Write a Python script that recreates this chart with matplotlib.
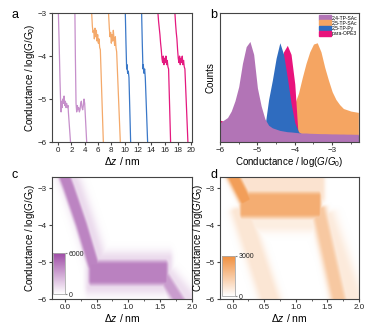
import numpy as np
import matplotlib
matplotlib.use("Agg")
import matplotlib.pyplot as plt
from matplotlib.colors import LinearSegmentedColormap
from matplotlib.patches import Patch
from matplotlib.ticker import MultipleLocator

plt.rcParams['font.family'] = ['Liberation Sans', 'DejaVu Sans']
plt.rcParams['mathtext.fontset'] = 'custom'
plt.rcParams['mathtext.rm'] = 'Liberation Sans'
plt.rcParams['mathtext.it'] = 'Liberation Sans:italic'
plt.rcParams['axes.edgecolor'] = '#444444'
plt.rcParams['axes.linewidth'] = 0.8
plt.rcParams['xtick.color'] = '#444444'
plt.rcParams['ytick.color'] = '#444444'
plt.rcParams['xtick.labelcolor'] = '#222222'
plt.rcParams['ytick.labelcolor'] = '#222222'
plt.rcParams['xtick.major.size'] = 2
plt.rcParams['ytick.major.size'] = 2
plt.rcParams['xtick.minor.size'] = 1.2
plt.rcParams['ytick.minor.size'] = 1.2
plt.rcParams['xtick.major.pad'] = 1.5
plt.rcParams['ytick.major.pad'] = 1.5

PURPLE = '#b274b6'
ORANGE = '#f5a562'
BLUE = '#2f6cbf'
PINK = '#e8137c'
TRACE_PURPLE = '#c68fcb'
TRACE_ORANGE = '#f4a96a'
TRACE_BLUE = '#3a78c8'
TRACE_PINK = '#e4197f'

# ---- panel a: single traces (z in nm, log G)
traces = [
    ([0.05, 0.15, 0.3, 0.4, 0.45, 0.55, 0.6, 0.7, 0.8, 0.9, 1.0, 1.1, 1.2, 1.3, 1.4, 1.5, 1.55, 1.87],
     [-3.0, -3.6, -4.6, -5.15, -5.3, -5.05, -5.2, -5.0, -5.1, -4.93, -5.15, -5.05, -5.2, -5.1, -5.2, -5.15, -5.3, -6.0],
     TRACE_PURPLE),
    ([2.53, 2.6, 2.7, 2.8, 2.9, 3.0, 3.1, 3.2, 3.3, 3.4, 3.5, 3.6, 3.7, 3.8, 3.9, 4.0, 4.3],
     [-3.0, -4.0, -5.1, -5.3, -5.15, -5.25, -5.2, -5.3, -5.25, -5.1, -5.05, -5.2, -5.25, -5.15, -5.0, -5.1, -6.0],
     TRACE_PURPLE),
    ([5.05, 5.15, 5.25, 5.35, 5.45, 5.55, 5.65, 5.75, 5.85, 5.95, 6.05, 6.15, 6.25, 6.35, 6.8],
     [-3.0, -3.3, -3.45, -3.4, -3.6, -3.35, -3.55, -3.4, -3.65, -3.5, -3.7, -3.6, -3.8, -3.85, -6.0],
     TRACE_ORANGE),
    ([7.58, 7.7, 7.8, 7.9, 8.0, 8.1, 8.2, 8.3, 8.4, 8.5, 8.6, 8.7, 8.8, 9.35],
     [-3.0, -3.35, -3.55, -3.45, -3.7, -3.5, -3.65, -3.4, -3.6, -3.75, -3.55, -3.8, -3.9, -6.0],
     TRACE_ORANGE),
    ([10.1, 10.2, 10.3, 10.35, 10.45, 10.55, 10.65, 10.9],
     [-3.0, -3.7, -4.3, -4.2, -4.4, -4.35, -4.5, -6.0],
     TRACE_BLUE),
    ([12.55, 12.65, 12.75, 12.8, 12.9, 13.0, 13.1, 13.45],
     [-3.0, -3.7, -4.3, -4.2, -4.4, -4.3, -4.5, -6.0],
     TRACE_BLUE),
    ([15.0, 15.1, 15.2, 15.3, 15.4, 15.5, 15.6, 15.7, 15.8, 15.9, 16.0, 16.1, 16.2, 16.3, 16.4, 16.5, 16.6, 16.9],
     [-3.0, -3.2, -3.35, -3.5, -3.7, -3.85, -4.05, -4.15, -4.0, -4.2, -4.05, -4.15, -4.0, -4.2, -4.1, -4.25, -4.3, -6.0],
     TRACE_PINK),
    ([17.55, 17.65, 17.75, 17.85, 17.95, 18.05, 18.15, 18.25, 18.35, 18.45, 18.55, 18.65, 18.75, 18.85, 18.95, 19.05, 19.5],
     [-3.0, -3.25, -3.45, -3.6, -3.85, -4.05, -4.15, -4.0, -4.2, -4.05, -4.15, -4.0, -4.2, -4.1, -4.25, -4.3, -6.0],
     TRACE_PINK),
]

# ---- panel b: 1D histograms (relative counts), bins -6.0 ... -2.3
hist_x = np.round(np.arange(-6.0, -2.25, 0.1), 2)
hist_purple = [0.15, 0.17, 0.19, 0.24, 0.32, 0.43, 0.61, 0.74, 0.78, 0.68, 0.42, 0.28, 0.18, 0.13,
               0.11, 0.10, 0.09, 0.085, 0.08, 0.078, 0.075, 0.072, 0.07, 0.07, 0.068, 0.067, 0.066,
               0.065, 0.065, 0.064, 0.063, 0.063, 0.062, 0.062, 0.061, 0.061, 0.06, 0.06]
hist_orange = [0.10, 0.10, 0.10, 0.10, 0.10, 0.10, 0.10, 0.10, 0.10, 0.10, 0.10, 0.10, 0.11, 0.13,
               0.14, 0.15, 0.16, 0.18, 0.21, 0.25, 0.30, 0.38, 0.50, 0.61, 0.70, 0.76, 0.77, 0.70,
               0.58, 0.48, 0.39, 0.33, 0.29, 0.26, 0.25, 0.24, 0.235, 0.23]
hist_blue = [0.05, 0.05, 0.05, 0.05, 0.05, 0.05, 0.05, 0.05, 0.05, 0.05, 0.05, 0.06, 0.12, 0.33,
             0.48, 0.65, 0.77, 0.68, 0.50, 0.30, 0.15, 0.08, 0.06, 0.05, 0.05, 0.05, 0.05, 0.05,
             0.05, 0.05, 0.05, 0.05, 0.05, 0.05, 0.05, 0.05, 0.05, 0.05]
hist_pink = [0.17, 0.16, 0.15, 0.14, 0.14, 0.14, 0.14, 0.14, 0.14, 0.14, 0.14, 0.14, 0.15, 0.17,
             0.22, 0.35, 0.55, 0.70, 0.75, 0.68, 0.45, 0.30, 0.18, 0.13, 0.10, 0.09, 0.08, 0.08,
             0.08, 0.08, 0.08, 0.08, 0.08, 0.08, 0.08, 0.08, 0.08, 0.08]
hist_labels = ['2,4-TP-SAc', '2,5-TP-SAc', '2,5-TP-Py', 'para-OPE3']

# ---- panels c, d: 2D histograms as bands
# (polyline z, polyline logG, core half-width, side falloff, end falloff, weight)
c_bands = [
    ([-0.04, 0.06, 0.26, 0.47], [-2.55, -3.0, -4.0, -5.2], 0.09, 0.06, 0.08, 0.68),
    ([0.0, 0.12, 0.32, 0.52], [-2.55, -3.0, -4.0, -5.1], 0.12, 0.14, 0.10, 0.20),
    ([0.42, 1.58], [-5.3, -5.3], 0.21, 0.11, 0.07, 0.70),
    ([0.38, 1.64], [-5.3, -5.3], 0.38, 0.16, 0.08, 0.20),
    ([1.52, 1.82], [-5.3, -6.1], 0.07, 0.08, 0.06, 0.55),
    ([1.60, 1.95], [-5.4, -6.1], 0.12, 0.14, 0.08, 0.18),
]
c_vmax = 6000

d_bands = [
    ([-0.04, 0.20], [-2.55, -3.35], 0.09, 0.07, 0.08, 0.85),
    ([0.15, 1.35], [-3.47, -3.47], 0.23, 0.11, 0.06, 0.72),
    ([0.10, 1.40], [-2.95, -2.95], 0.30, 0.12, 0.07, 0.24),
    ([0.20, 1.35], [-3.9, -3.9], 0.12, 0.15, 0.06, 0.15),
    ([1.35, 1.68], [-3.6, -6.1], 0.09, 0.10, 0.06, 0.48),
    ([1.42, 1.88], [-3.8, -6.1], 0.15, 0.16, 0.08, 0.18),
    ([0.12, 0.60], [-3.6, -6.1], 0.14, 0.12, 0.08, 0.22),
]
d_vmax = 3000


def band_density(zz, gg, bands, k=1.73):
    img = np.zeros_like(zz)
    for zs, gs, half, soft, end_soft, amp in bands:
        for i in range(len(zs) - 1):
            vx, vy = (zs[i + 1] - zs[i]) * k, gs[i + 1] - gs[i]
            L = np.hypot(vx, vy)
            px, py = zz * k - zs[i] * k, gg - gs[i]
            s = (px * vx + py * vy) / L
            perp = np.abs(px * vy - py * vx) / L
            excess = np.maximum(np.maximum(-s, s - L), 0)
            val = (amp * np.exp(-np.maximum(perp - half, 0) ** 2 / (2 * soft ** 2))
                   * np.exp(-excess ** 2 / (2 * end_soft ** 2)))
            img = np.maximum(img, val)
    return img


fig = plt.figure(figsize=(3.8, 3.28), dpi=100)

ylab = r'Conductance / log($G$/$G_0$)'
dzlab = r'Δ$z$ / nm'

# panel a
ax_a = fig.add_axes([0.137, 0.567, 0.368, 0.393])
for zs, gs, col in traces:
    ax_a.plot(zs, gs, color=col, lw=0.9)
ax_a.set_xlim(-0.9, 20.1)
ax_a.set_ylim(-6, -3)
ax_a.set_xticks(range(0, 21, 2))
ax_a.set_yticks([-6, -5, -4, -3])
ax_a.tick_params(labelsize=5.8)
ax_a.set_xlabel(dzlab, fontsize=7.5, labelpad=0.5)
ax_a.set_ylabel(ylab, fontsize=7, labelpad=1)

# panel b
ax_b = fig.add_axes([0.579, 0.567, 0.366, 0.393])
ax_b.fill_between(hist_x, 0, hist_orange, color=ORANGE, lw=0)
ax_b.fill_between(hist_x, 0, hist_pink, where=np.array(hist_pink) > np.array(hist_orange),
                  color=PINK, lw=0, interpolate=True)
ax_b.fill_between(hist_x, 0, hist_blue, color=BLUE, lw=0)
ax_b.fill_between(hist_x, 0, hist_purple, color=PURPLE, lw=0)
ax_b.set_xlim(-6, -2.28)
ax_b.set_ylim(0, 1)
ax_b.set_yticks([])
ax_b.set_xticks([-6, -5, -4, -3])
ax_b.xaxis.set_minor_locator(MultipleLocator(0.5))
ax_b.tick_params(labelsize=5.8)
ax_b.set_xlabel(ylab, fontsize=7, labelpad=0.5)
ax_b.set_ylabel('Counts', fontsize=7, labelpad=3)
handles = [Patch(color=c) for c in (PURPLE, ORANGE, BLUE, PINK)]
ax_b.legend(handles, hist_labels, loc='upper right', fontsize=3.6, frameon=False,
            handlelength=2.4, handleheight=1.1, labelspacing=0.05, handletextpad=0.2,
            borderaxespad=0.25, borderpad=0.1)

# panels c and d
zgrid = np.linspace(-0.2, 2.0, 330)
ggrid = np.linspace(-6.0, -2.7, 250)
zz, gg = np.meshgrid(zgrid, ggrid)

for rect, bands, vmax, col, letter in (
        ([0.137, 0.088, 0.368, 0.372], c_bands, c_vmax, '#9e4ca6', 'c'),
        ([0.579, 0.088, 0.366, 0.372], d_bands, d_vmax, '#f08e3c', 'd')):
    ax = fig.add_axes(rect)
    cmap = LinearSegmentedColormap.from_list('m' + letter, ['#ffffff', col])
    img = band_density(zz, gg, bands) * vmax
    im = ax.imshow(img, origin='lower', extent=(-0.2, 2.0, -6.0, -2.7), aspect='auto',
                   cmap=cmap, vmin=0, vmax=vmax, interpolation='bilinear')
    ax.set_xlim(-0.2, 2.0)
    ax.set_ylim(-6.0, -2.7)
    ax.set_xticks([0.0, 0.5, 1.0, 1.5, 2.0])
    ax.set_yticks([-6, -5, -4, -3])
    ax.xaxis.set_minor_locator(MultipleLocator(0.25))
    ax.tick_params(labelsize=5.8)
    ax.set_xlabel(dzlab, fontsize=7.5, labelpad=0.5)
    ax.set_ylabel(ylab, fontsize=7, labelpad=1)
    if letter == 'c':
        cax = ax.inset_axes([0.008, 0.04, 0.085, 0.335])
    else:
        cax = ax.inset_axes([0.014, 0.025, 0.094, 0.33])
    cb = fig.colorbar(im, cax=cax, ticks=[0, vmax])
    cb.outline.set_edgecolor('#aaaaaa')
    cb.outline.set_linewidth(0.6)
    cb.ax.tick_params(labelsize=5, length=1.5, pad=1, color='#888888')

for x, y, letter in ((0.03, 0.955, 'a'), (0.553, 0.955, 'b'), (0.03, 0.465, 'c'), (0.553, 0.465, 'd')):
    fig.text(x, y, letter, fontsize=9, ha='left', va='center')

fig.savefig('out.png', dpi=100)
